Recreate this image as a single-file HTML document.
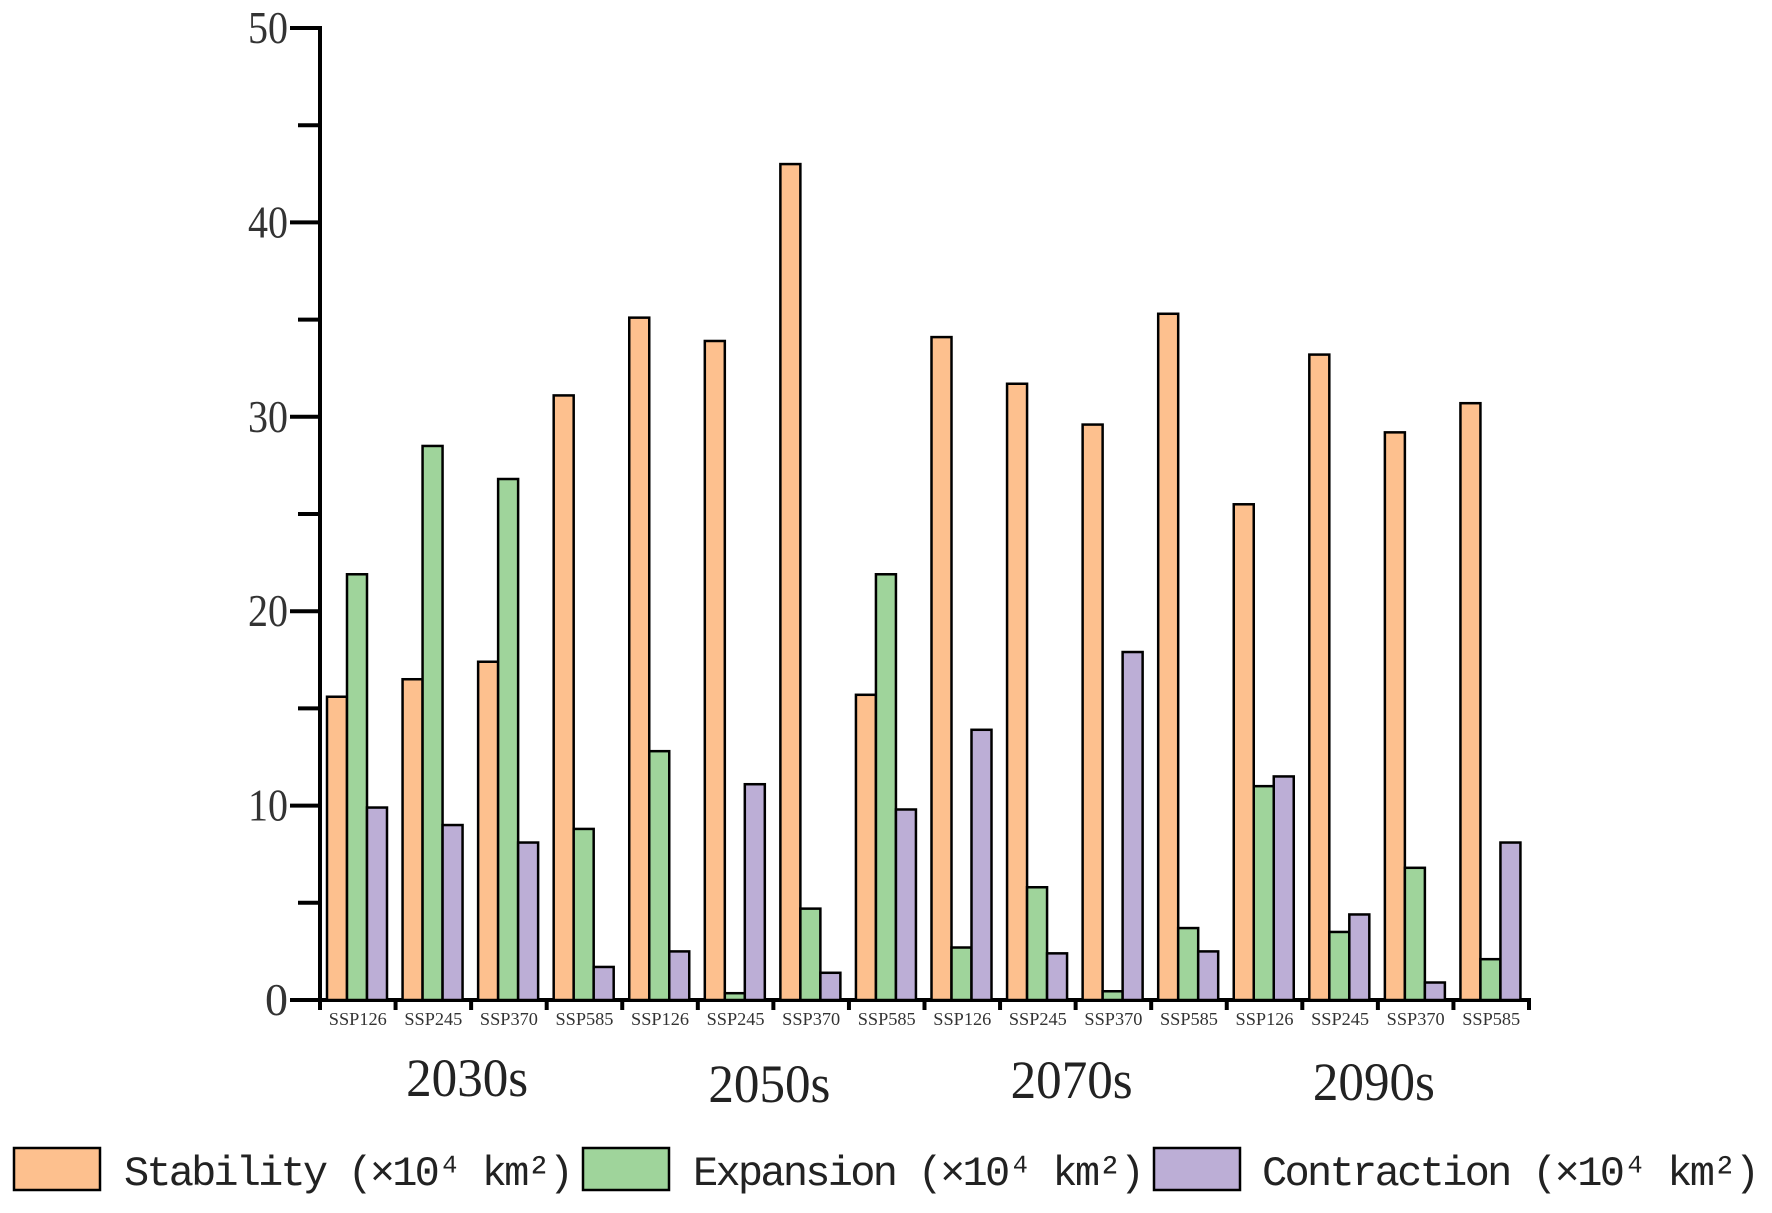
<!DOCTYPE html>
<html><head><meta charset="utf-8"><style>
html,body{margin:0;padding:0;background:#fff;}
svg{display:block;}
</style></head><body>
<svg id="chart" width="1772" height="1213" xmlns="http://www.w3.org/2000/svg">
<g id="axes"></g>
<g id="bars"></g>
<g id="legend">
  <rect x="14" y="1148" width="86" height="42" fill="#fdc08e" stroke="#000" stroke-width="2.5"/>
  <text x="124" y="1185" font-family="Liberation Mono, monospace" font-size="42" fill="#222" textLength="450">Stability (×10⁴ km²)</text>
  <rect x="583" y="1148" width="86" height="42" fill="#9fd49b" stroke="#000" stroke-width="2.5"/>
  <text x="693" y="1185" font-family="Liberation Mono, monospace" font-size="42" fill="#222" textLength="452">Expansion (×10⁴ km²)</text>
  <rect x="1154" y="1148" width="86" height="42" fill="#bcaed6" stroke="#000" stroke-width="2.5"/>
  <text x="1262" y="1185" font-family="Liberation Mono, monospace" font-size="42" fill="#222" textLength="498">Contraction (×10⁴ km²)</text>
</g>
</svg>
<script>
const scenarios = ["SSP126","SSP245","SSP370","SSP585","SSP126","SSP245","SSP370","SSP585","SSP126","SSP245","SSP370","SSP585","SSP126","SSP245","SSP370","SSP585"];
const periods = ["2030s","2050s","2070s","2090s"];
const stability = [15.6,16.5,17.4,31.1,35.1,33.9,43.0,15.7,34.1,31.7,29.6,35.3,25.5,33.2,29.2,30.7];
const expansion = [21.9,28.5,26.8,8.8,12.8,0.35,4.7,21.9,2.7,5.8,0.45,3.7,11.0,3.5,6.8,2.1];
const contraction = [9.9,9.0,8.1,1.7,2.5,11.1,1.4,9.8,13.9,2.4,17.9,2.5,11.5,4.4,0.9,8.1];
const yTicks = [0,10,20,30,40,50];

const NS = "http://www.w3.org/2000/svg";
const X0 = 320, XEND = 1529, Y0 = 1000, Y50 = 28, YMAX = 50;
const catW = (XEND - X0) / scenarios.length;
function y(v){ return Y0 - v / YMAX * (Y0 - Y50); }
function xCat(i){ return X0 + i * catW; }
function mk(tag, attrs, parent){
  const e = document.createElementNS(NS, tag);
  for (const k in attrs) e.setAttribute(k, attrs[k]);
  parent.appendChild(e);
  return e;
}
const axes = document.getElementById('axes');
const bars = document.getElementById('bars');

let el = mk('line', {x1:X0, y1:Y50-2, x2:X0, y2:Y0+2, stroke:'#000','stroke-width':4}, axes);


el = mk('line', {x1:X0-30, y1:Y0, x2:XEND+2, y2:Y0, stroke:'#000','stroke-width':4}, axes);



yTicks.forEach(function(t){
  const tk = mk('line', {x1:X0-30, y1:y(t), x2:X0, y2:y(t), stroke:'#000','stroke-width':4}, axes);
  
  
  const s = String(t);
  const attrs = {x:288, y:y(t)+15, 'text-anchor':'end', 'font-family':'Liberation Serif, serif', 'font-size':46, fill:'#333'};
  if (s.length === 2) { attrs.textLength = 40; attrs.lengthAdjust = 'spacingAndGlyphs'; }
  const lb = mk('text', attrs, axes);
  lb.textContent = s;
  
  
  if (t < YMAX) {
    const mn = mk('line', {x1:X0-22, y1:y(t+5), x2:X0, y2:y(t+5), stroke:'#000','stroke-width':4}, axes);
    
    
  }
});

for (let i = 0; i <= scenarios.length; i++) {
  const tk = mk('line', {x1:xCat(i), y1:Y0, x2:xCat(i), y2:Y0+10, stroke:'#000','stroke-width':4}, axes);
  
  
}
scenarios.forEach(function(s, i){
  const lb = mk('text', {x:xCat(i)+catW/2-29, y:Y0+25, 'font-family':'Liberation Serif, serif', 'font-size':18, fill:'#333', textLength:58, lengthAdjust:'spacingAndGlyphs'}, axes);
  lb.textContent = s;
  
  
});
const periodY = [1096, 1102, 1098, 1100];
periods.forEach(function(p, k){
  const cx = xCat(k*4)+catW*2 - 4;
  const lb = mk('text', {x:cx-61, y:periodY[k], 'font-family':'Liberation Serif, serif', 'font-size':54, fill:'#222', textLength:122, lengthAdjust:'spacingAndGlyphs'}, axes);
  lb.textContent = p;
  
  
});

const series = [[stability,'#fdc08e','stability'],[expansion,'#9fd49b','expansion'],[contraction,'#bcaed6','contraction']];
const barW = 20, off = 7;
scenarios.forEach(function(s, i){
  series.forEach(function(sr, j){
    const v = sr[0][i];
    const b = mk('rect', {x:xCat(i)+off+j*barW, y:y(v), width:barW, height:Y0-y(v), fill:sr[1], stroke:'#000','stroke-width':2.5}, bars);
    
    
  });
});
</script>
</body></html>
